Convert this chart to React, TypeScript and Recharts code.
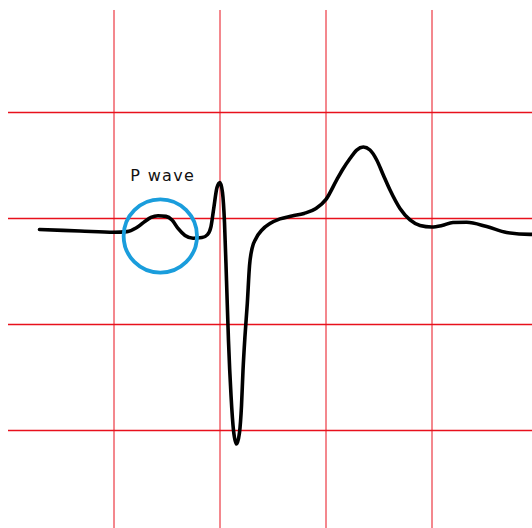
import React from 'react'
import { LineChart, Line, XAxis, YAxis, ReferenceLine, ReferenceDot } from 'recharts'

// one ECG beat, time in seconds (one big box = 0.2 s), amplitude in mV (one big box = 0.5 mV)
const times = [
    0.0594, 0.1358, 0.2, 0.2245, 0.2415, 0.2566, 0.2698, 0.283, 0.2981, 0.3094,
    0.3208, 0.334, 0.3491, 0.366, 0.3764, 0.383, 0.3887, 0.3943, 0.4, 0.4047,
    0.4085, 0.4123, 0.416, 0.4208, 0.4255, 0.4311, 0.4368, 0.4406, 0.4434, 0.4472,
    0.4515, 0.4557, 0.4604, 0.4679, 0.4792, 0.4943, 0.5132, 0.5358, 0.5585, 0.5811,
    0.6, 0.6202, 0.6326, 0.6453, 0.6579, 0.6704, 0.683, 0.6957, 0.7081, 0.7208,
    0.7396, 0.7585, 0.7774, 0.7994, 0.8189, 0.8396, 0.8655, 0.9032, 0.9409, 0.985,
    1.0,
]
const volts = [
    -0.052, -0.059, -0.065, -0.062, -0.045, -0.017, 0.005, 0.013, 0.01, -0.007,
    -0.047, -0.08, -0.093, -0.09, -0.076, -0.038, 0.057, 0.146, 0.17, 0.123,
    -0.019, -0.293, -0.576, -0.835, -1.0, -1.064, -1.009, -0.882, -0.717, -0.552,
    -0.401, -0.222, -0.142, -0.094, -0.054, -0.024, -0.002, 0.012, 0.024, 0.047,
    0.09, 0.182, 0.236, 0.283, 0.323, 0.337, 0.323, 0.276, 0.205, 0.134,
    0.047, -0.007, -0.033, -0.04, -0.033, -0.019, -0.018, -0.038, -0.066, -0.075,
    -0.075,
]

const gridTimes = [0.2, 0.4, 0.6, 0.8]
const gridVolts = [0.5, 0, -0.5, -1.0]

// where the P wave is marked
const pWave = { t: 0.2874, mV: -0.0825 }
const pWaveLabel = { t: 0.2919, mV: 0.1783, text: 'P wave' }

const data = times.map((t, i) => ({ t, mV: volts[i] }))

const App = () => {
    const renderLabel = (props: any) => {
        const vb = props.viewBox || {}
        const x = (vb.x || 0) + (vb.width || 0) / 2
        const y = (vb.y || 0) + (vb.height || 0) / 2
        return (
            <text x={x} y={y} textAnchor="middle" fontFamily="DejaVu Sans" fontSize={16} letterSpacing={1.3} fill="#111">
                {pWaveLabel.text}
            </text>
        )
    }

    return (
        <div style={{ position: 'fixed', left: 0, top: 0, width: 532, height: 528, overflow: 'hidden', background: '#fff' }}>
            <LineChart width={540} height={540} data={data} margin={{ top: 6.5, right: 2, bottom: 3.5, left: 8 }}>
                <XAxis dataKey="t" type="number" domain={[0, 1]} allowDataOverflow hide height={0} />
                <YAxis type="number" domain={[-1.5, 1]} allowDataOverflow hide width={0} />
                {gridVolts.map((v) => (
                    <ReferenceLine key={`h-${v}`} y={v} stroke="#e8101c" strokeWidth={1.3} />
                ))}
                {gridTimes.map((t) => (
                    <ReferenceLine
                        key={`v-${t}`}
                        segment={[{ x: t, y: -1.5 }, { x: t, y: 0.9835 }]}
                        stroke="#e8101c"
                        strokeWidth={1}
                    />
                ))}
                <Line
                    dataKey="mV"
                    type="monotone"
                    stroke="#000"
                    strokeWidth={3.6}
                    strokeLinecap="round"
                    dot={false}
                    isAnimationActive={false}
                />
                <ReferenceDot x={pWave.t} y={pWave.mV} r={36.7} fill="none" stroke="#1a9ddc" strokeWidth={3.8} />
                <ReferenceDot x={pWaveLabel.t} y={pWaveLabel.mV} r={1} fill="none" stroke="none" label={renderLabel} />
            </LineChart>
        </div>
    )
}

export default App
